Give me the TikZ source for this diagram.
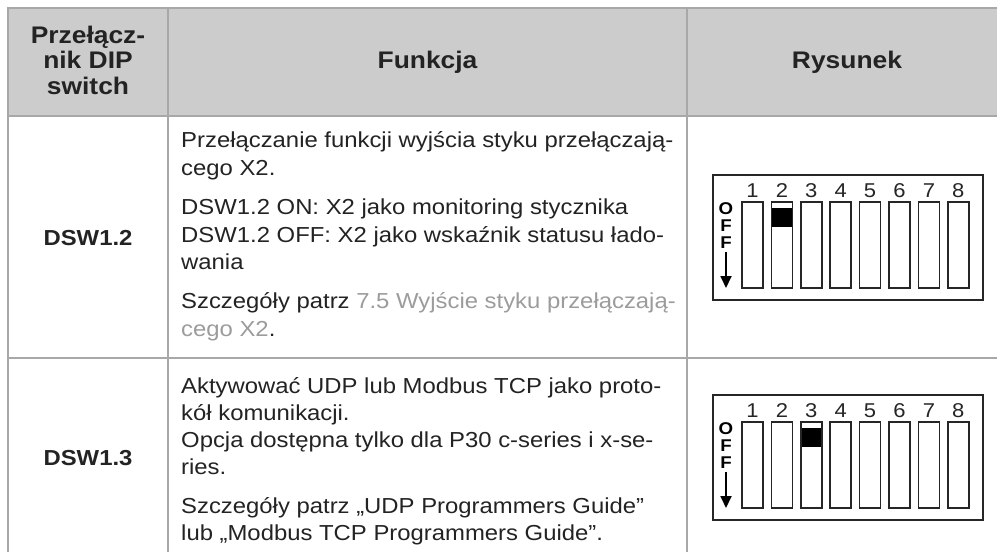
\documentclass[tikz,border=0pt]{standalone}
\usepackage{fontspec}
\setmainfont{Liberation Sans}[FakeStretch=1.1]
\usetikzlibrary{arrows.meta}
\definecolor{hdr}{HTML}{CCCCCC}
\definecolor{gridc}{HTML}{A8A8A8}
\definecolor{txt}{HTML}{232323}
\definecolor{lnk}{HTML}{9C9C9C}
\newcommand\DipDraw[3]{%
  \begin{scope}[shift={(#1,#2)}]
    \draw[dipline] (0,0) rectangle (270,125);
    \pgfmathsetmacro\xa{29+(#3-1)*29.4}
    \fill[black] (\xa,32.5) rectangle ++(21,19.5);
    \foreach \i in {1,...,8}{
      \pgfmathsetmacro\xl{29+(\i-1)*29.4}
      \draw[dipline] (\xl,27) rectangle ++(21,86);
      \node[dipnum] (n\i) at (\xl+10.5,22.5) {\i};
    }
    \node[offl] (o1) at (13,34) {O};
    \node[offl] (o2) at (13,51) {F};
    \node[offl] (o3) at (13,68) {F};
    \coordinate (as) at (13,77);
    \coordinate (ae) at (13,113);
    \draw[line width=1.8pt,-{Triangle[length=12pt,width=11pt]}] (as) -- (ae);
  \end{scope}}
\begin{document}
\begin{tikzpicture}[x=1pt,y=-1pt,
  gridl/.style={draw=gridc,line width=1.6pt},
  hd/.style={font={\fontsize{24}{25.5}\selectfont\bfseries},text=txt,align=center,inner sep=0},
  key/.style={font={\fontsize{21.7}{25}\selectfont\bfseries},text=txt,inner sep=0},
  bd/.style={font={\fontsize{21.7}{27}\selectfont},text=txt,anchor=base west,inner sep=0},
  dipline/.style={draw=black!85,line width=1.6pt},
  dipnum/.style={font={\fontsize{20}{22}\selectfont},text=black!85,inner sep=0,anchor=base},
  offl/.style={font={\fontsize{17}{17}\selectfont\bfseries},inner sep=0}]
\useasboundingbox (0,0) rectangle (997,552);
\fill[white] (0,0) rectangle (997,552);
\fill[hdr] (8,8) rectangle (1007,116);
\draw[gridl] (8,565) -- (8,8) -- (1010,8);
\draw[gridl] (8,116) -- (1010,116);
\draw[gridl] (8,358) -- (1010,358);
\draw[gridl] (168,8) -- (168,565);
\draw[gridl] (687,8) -- (687,565);
% header
\node[hd] (h1) at (88,60) {Przełącz-\\nik DIP\\switch};
\node[hd] (h2) at (427.5,62) {Funkcja};
\node[hd] (h3) at (847,62) {Rysunek};
% row 1
\node[key] (k1) at (88,238) {DSW1.2};
\node[bd] (a1) at (181,147) {Przełączanie funkcji wyjścia styku przełączają-};
\node[bd] (a2) at (181,175) {cego X2.};
\node[bd] (a3) at (181,214) {DSW1.2 ON: X2 jako monitoring stycznika};
\node[bd] (a4) at (181,242) {DSW1.2 OFF: X2 jako wskaźnik statusu łado-};
\node[bd] (a5) at (181,269) {wania};
\node[bd] (a6) at (181,308) {Szczegóły patrz \textcolor{lnk}{7.5 Wyjście styku przełączają-}};
\node[bd] (a7) at (181,336) {\textcolor{lnk}{cego X2}.};
% row 2
\node[key] (k2) at (88,458) {DSW1.3};
\node[bd] (b1) at (181,393) {Aktywować UDP lub Modbus TCP jako proto-};
\node[bd] (b2) at (181,420) {kół komunikacji.};
\node[bd] (b3) at (181,447) {Opcja dostępna tylko dla P30 c-series i x-se-};
\node[bd] (b4) at (181,474) {ries.};
\node[bd] (b5) at (181,513) {Szczegóły patrz „UDP Programmers Guide”};
\node[bd] (b6) at (181,540) {lub „Modbus TCP Programmers Guide”.};
% DIP switches
\DipDraw{713}{175}{2}
\DipDraw{713}{395}{3}
\end{tikzpicture}
\end{document}
